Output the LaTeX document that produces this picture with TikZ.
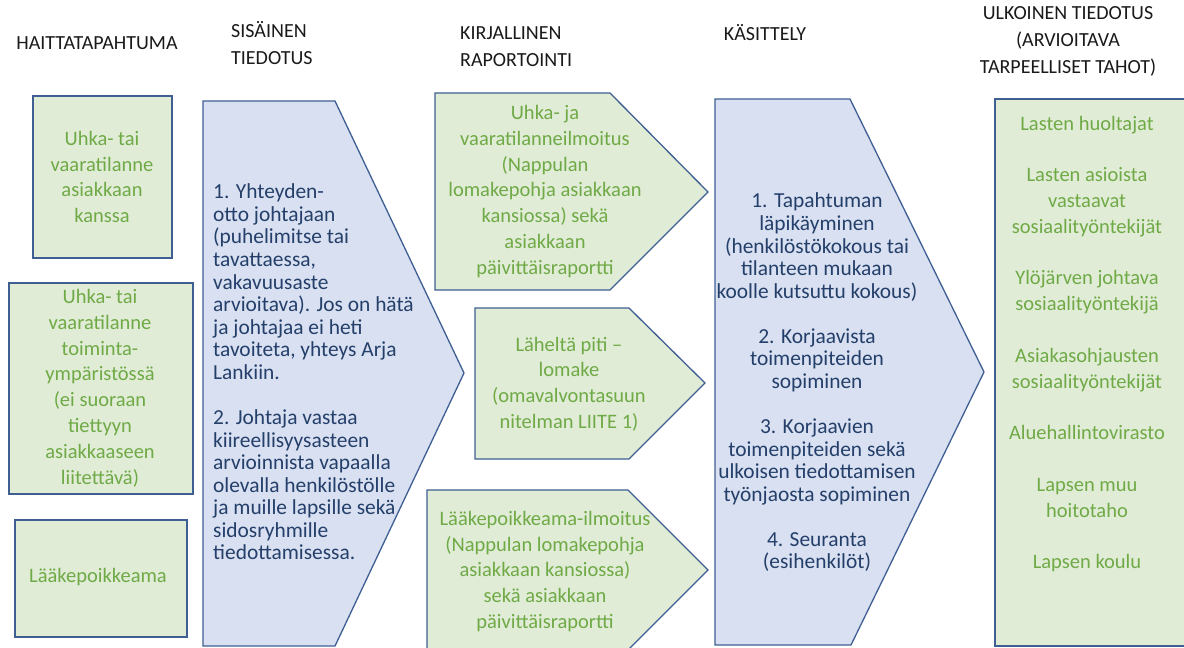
\documentclass[tikz,border=0pt]{standalone}
\usepackage{fontspec}
\setmainfont{Carlito}
\definecolor{gfill}{HTML}{E0ECD6}
\definecolor{bfill}{HTML}{D8E0F1}
\definecolor{bord}{HTML}{3F5F93}
\definecolor{gtext}{HTML}{6FAA46}
\definecolor{btext}{HTML}{243F6A}
\definecolor{htext}{HTML}{1A1A1A}
\tikzset{
  gshape/.style={draw=bord, fill=gfill, line width=1.3pt, line join=miter},
  bshape/.style={draw=bord, fill=bfill, line width=1.3pt, line join=miter},
  gtxt/.style={text=gtext, align=center, font=\fontsize{20.5}{25.8}\selectfont, inner sep=0pt},
  btxt/.style={text=btext, font=\fontsize{21.4}{22.56}\selectfont, inner sep=0pt},
  htxt/.style={text=htext, font=\fontsize{20}{27}\selectfont, inner sep=0pt},
}
\begin{document}
\begin{tikzpicture}[x=1pt,y=-1pt]
\clip (0,0) rectangle (1184,648);
\fill[white] (0,0) rectangle (1184,648);

% headers
\node[htxt] (h1) at (97,43) {HAITTATAPAHTUMA};
\node[htxt, align=left, anchor=west] (h2) at (231,43.5) {SISÄINEN\\TIEDOTUS};
\node[htxt, align=left, anchor=west] (h3) at (460,46.5) {KIRJALLINEN\\RAPORTOINTI};
\node[htxt] (h4) at (765,33) {KÄSITTELY};
\node[htxt, align=center] (h5) at (1068,41.5) {ULKOINEN TIEDOTUS\\(ARVIOITAVA\\TARPEELLISET TAHOT)};

% left column
\draw[gshape] (33,96) rectangle (172,258);
\node[gtxt] (l1) at (102,177) {Uhka- tai\\vaaratilanne\\asiakkaan\\kanssa};
\draw[gshape] (9,283) rectangle (193,494);
\node[gtxt] (l2) at (100,388) {Uhka- tai\\vaaratilanne\\toiminta-\\ympäristössä\\(ei suoraan\\tiettyyn\\asiakkaaseen\\liitettävä)};
\draw[gshape] (15,520) rectangle (187,637);
\node[gtxt] (l3) at (98,577) {Lääkepoikkeama};

% blue pentagon 1
\draw[bshape] (203,101) -- (335,101) -- (464,373) -- (335,646) -- (203,646) -- cycle;
\node[btxt, align=left, anchor=west] (b1) at (213,372) {1. Yhteyden-\\otto johtajaan\\(puhelimitse tai\\tavattaessa,\\vakavuusaste\\arvioitava). Jos on hätä\\ja johtajaa ei heti\\tavoiteta, yhteys Arja\\Lankiin.\\[22.56pt]2. Johtaja vastaa\\kiireellisyysasteen\\arvioinnista vapaalla\\olevalla henkilöstölle\\ja muille lapsille sekä\\sidosryhmille\\tiedottamisessa.};

% green pentagons
\draw[gshape] (435,93) -- (610,93) -- (708,192) -- (610,290) -- (435,290) -- cycle;
\node[gtxt] (g1) at (545,191.5) {Uhka- ja\\vaaratilanneilmoitus\\(Nappulan\\lomakepohja asiakkaan\\kansiossa) sekä\\asiakkaan\\päivittäisraportti};
\draw[gshape] (475,308) -- (629,308) -- (705,383) -- (629,459) -- (475,459) -- cycle;
\node[gtxt] (g2) at (569,384) {Läheltä piti –\\lomake\\(omavalvontasuun\\nitelman LIITE 1)};
\draw[gshape] (427,490) -- (628,490) -- (708,570) -- (628,650) -- (427,650) -- cycle;
\node[gtxt] (g3) at (545,571.5) {Lääkepoikkeama-ilmoitus\\(Nappulan lomakepohja\\asiakkaan kansiossa)\\sekä asiakkaan\\päivittäisraportti};

% blue pentagon 2
\draw[bshape] (715,99) -- (850,99) -- (984,372) -- (851,645) -- (715,645) -- cycle;
\node[btxt, align=center] (b2) at (817,382.5) {1. Tapahtuman\\läpikäyminen\\(henkilöstökokous tai\\tilanteen mukaan\\koolle kutsuttu kokous)\\[22.56pt]2. Korjaavista\\toimenpiteiden\\sopiminen\\[22.56pt]3. Korjaavien\\toimenpiteiden sekä\\ulkoisen tiedottamisen\\työnjaosta sopiminen\\[22.56pt]4. Seuranta\\(esihenkilöt)};

% right box
\draw[gshape] (995,99) rectangle (1192,646);
\node[gtxt] (r1) at (1087,344) {Lasten huoltajat\\[25.8pt]Lasten asioista\\vastaavat\\sosiaalityöntekijät\\[25.8pt]Ylöjärven johtava\\sosiaalityöntekijä\\[25.8pt]Asiakasohjausten\\sosiaalityöntekijät\\[25.8pt]Aluehallintovirasto\\[25.8pt]Lapsen muu\\hoitotaho\\[25.8pt]Lapsen koulu};
\end{tikzpicture}
\end{document}
